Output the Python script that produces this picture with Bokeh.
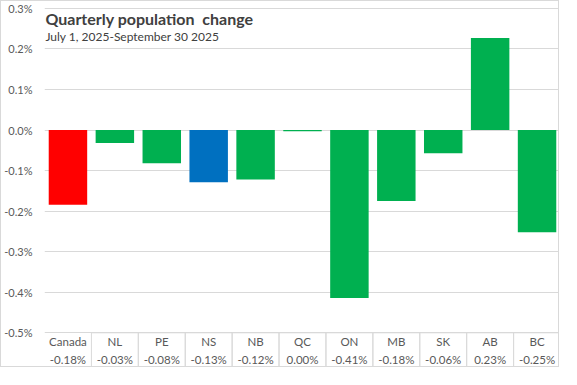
from bokeh.plotting import figure
from bokeh.models import FactorRange, Range1d, FixedTicker, PrintfTickFormatter, Label, ColumnDataSource
from bokeh.core.properties import value
from bokeh.embed import file_html
from bokeh.resources import INLINE

# ---- data ----
categories = ["Canada", "NL", "PE", "NS", "NB", "QC", "ON", "MB", "SK", "AB", "BC"]
values = [-0.184, -0.032, -0.082, -0.129, -0.122, -0.003, -0.414, -0.175, -0.057, 0.227, -0.252]
value_labels = ["-0.18%", "-0.03%", "-0.08%", "-0.13%", "-0.12%", "0.00%",
                "-0.41%", "-0.18%", "-0.06%", "0.23%", "-0.25%"]
y_ticks = [-0.5, -0.4, -0.3, -0.2, -0.1, 0.0, 0.1, 0.2, 0.3]
title_text = "Quarterly population\u00a0 change"
subtitle_text = "July 1, 2025-September 30 2025"

RED, GREEN, BLUE = "#FF0000", "#00B050", "#0070C0"
colors = [RED if c == "Canada" else BLUE if c == "NS" else GREEN for c in categories]

GRID = "#d9d9d9"
LABEL = "#595959"
FONT = "Lato"

# table region below the plot (in axis units)
table_top = -0.5
table_h = 0.088
y_start = table_top - table_h

p = figure(
    width=559, height=367,
    x_range=FactorRange(*categories, range_padding=0),
    y_range=Range1d(y_start, 0.312),
    output_backend="svg", toolbar_location=None,
    min_border_left=35, min_border_right=0, min_border_top=2, min_border_bottom=0,
)
p.styles = {"border": "1px solid #d9d9d9"}
p.outline_line_color = None
p.background_fill_color = "white"
p.border_fill_color = "white"

src = ColumnDataSource(dict(cat=categories, val=values, color=colors, lab=value_labels))
p.vbar(x="cat", top="val", bottom=0, width=0.82, fill_color="color", line_color=None, source=src)

# grid
p.xgrid.visible = False
p.ygrid.ticker = FixedTicker(ticks=y_ticks)
p.ygrid.grid_line_color = GRID
p.ygrid.grid_line_width = 1

# axes
p.xaxis.visible = False
yax = p.yaxis[0]
yax.ticker = FixedTicker(ticks=y_ticks)
yax.formatter = PrintfTickFormatter(format="%.1f%%")
yax.axis_line_color = None
yax.major_tick_line_color = None
yax.minor_tick_line_color = None
yax.major_label_standoff = 6
yax.major_label_text_font = FONT
yax.major_label_text_font_size = "11px"
yax.major_label_text_color = LABEL

# data table cell separators below chart (no left edge on first cell)
p.rect(x=categories[1:], y=table_top - table_h / 2, width=1, height=table_h,
       fill_color=None, line_color=GRID, line_width=1)
p.text(x="cat", y=table_top - table_h * 0.25, text="cat", source=src,
       text_align="center", text_baseline="middle", text_font=value(FONT),
       text_font_size="11.5px", text_color=LABEL)
p.text(x="cat", y=table_top - table_h * 0.76, text="lab", source=src,
       text_align="center", text_baseline="middle", text_font=value(FONT),
       text_font_size="11.5px", text_color=LABEL)

# title / subtitle
p.add_layout(Label(x=0.02, y=0.276, text=title_text, text_baseline="middle",
                   text_font=FONT, text_font_style="bold", text_font_size="16px",
                   text_color="#404040"))
p.add_layout(Label(x=0.02, y=0.231, text=subtitle_text, text_baseline="middle",
                   text_font=FONT, text_font_size="12px", text_color="#404040"))

open("out.html", "w").write(file_html(p, INLINE))
